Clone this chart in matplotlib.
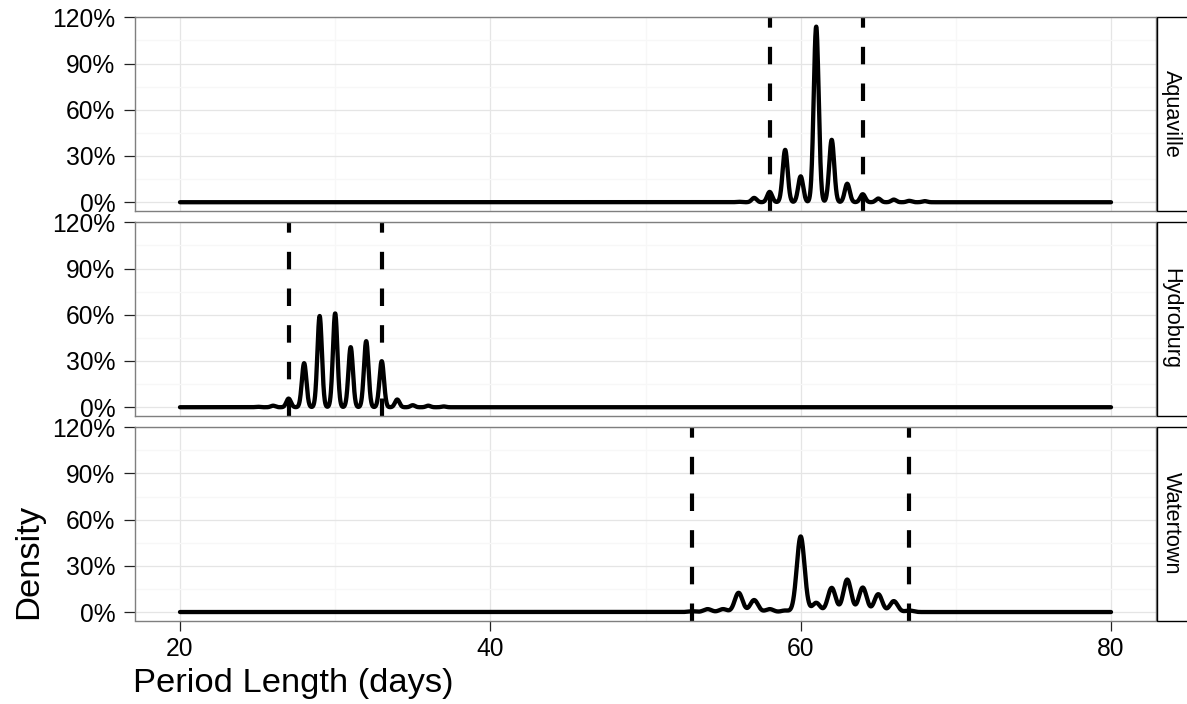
import numpy as np
import matplotlib
matplotlib.use("Agg")
import matplotlib.pyplot as plt
from matplotlib.patches import Rectangle

plt.rcParams['font.family'] = ['Liberation Sans', 'DejaVu Sans']

# facet names
cities = ["Aquaville", "Hydroburg", "Watertown"]

aqua_days = [56, 57, 58, 59, 60, 61, 62, 63, 64, 65, 66, 67, 68]
aqua_peaks = [0.003, 0.028, 0.067, 0.34, 0.168, 1.14, 0.405, 0.12, 0.052, 0.024, 0.017, 0.009, 0.007]

hydro_days = [25, 26, 27, 28, 29, 30, 31, 32, 33, 34, 35, 36, 37]
hydro_peaks = [0.003, 0.01, 0.056, 0.286, 0.592, 0.609, 0.39, 0.429, 0.299, 0.05, 0.013, 0.01, 0.005]

water_days = [53, 54, 55, 56, 57, 58, 59, 60, 61, 62, 63, 64, 65, 66, 67]
water_peaks = [0.005, 0.019, 0.019, 0.125, 0.078, 0.019, 0.01, 0.491, 0.06, 0.157, 0.211, 0.159, 0.116, 0.071, 0.01]

# kernel bandwidths of the density estimates
bandwidths = [0.16, 0.145, 0.25]

# dashed interval bounds
lower_bounds = [58, 27, 53]
upper_bounds = [64, 33, 67]

x_ticks = [20, 40, 60, 80]
y_ticks = [0, 0.3, 0.6, 0.9, 1.2]
y_labels = ["0%", "30%", "60%", "90%", "120%"]

W, H = 1187, 704
fig = plt.figure(figsize=(W / 100, H / 100), dpi=100)


def rect(left, top, right, bottom):
    return [left / W, 1 - bottom / H, (right - left) / W, (bottom - top) / H]


def density_curve(grid, days, peaks, bw):
    y = np.zeros_like(grid)
    for d, p in zip(days, peaks):
        y += p * np.exp(-0.5 * ((grid - d) / bw) ** 2)
    return y


panel_tb = [(16.7, 210.7), (221.7, 415.7), (426.7, 620.5)]
all_days = [aqua_days, hydro_days, water_days]
all_peaks = [aqua_peaks, hydro_peaks, water_peaks]
grid = np.linspace(20, 80, 4000)

for i, city in enumerate(cities):
    top, bottom = panel_tb[i]
    ax = fig.add_axes(rect(135, top, 1155.7, bottom))
    ax.set_xlim(17.1, 82.88)
    ax.set_ylim(-0.055, 1.204)

    # grid
    ax.set_xticks(x_ticks)
    ax.set_xticks([30, 50, 70], minor=True)
    ax.set_yticks(y_ticks)
    ax.set_yticks([0.15, 0.45, 0.75, 1.05], minor=True)
    ax.set_yticklabels(y_labels)
    ax.grid(True, which='major', color='#E5E5E5', lw=0.9)
    ax.grid(True, which='minor', color='#F7F7F7', lw=0.9)
    ax.set_axisbelow(True)

    ax.axvline(lower_bounds[i], color='black', lw=3.0, ls=(0, (4.2, 4.6)))
    ax.axvline(upper_bounds[i], color='black', lw=3.0, ls=(0, (4.2, 4.6)))

    dens = density_curve(grid, all_days[i], all_peaks[i], bandwidths[i])
    ax.plot(grid, dens, color='black', lw=3.1, solid_capstyle='round', solid_joinstyle='round')

    for sp in ax.spines.values():
        sp.set_color('#7F7F7F')
        sp.set_linewidth(1.0)

    ax.tick_params(axis='y', which='major', length=7.8, width=0.9, color='#222222',
                   pad=6.5, labelsize=17.7, labelcolor='black')
    ax.tick_params(which='minor', length=0)
    if i == 2:
        ax.tick_params(axis='x', which='major', length=7.3, width=0.9, color='#222222',
                       pad=4.5, labelsize=17.7, labelcolor='black')
        ax.set_xticklabels([str(t) for t in x_ticks])
    else:
        ax.tick_params(axis='x', which='major', length=0, labelbottom=False)

    # facet strip on the right
    strip = Rectangle(((1157.3) / W, 1 - bottom / H), 60 / W, (bottom - top) / H,
                      transform=fig.transFigure, facecolor='white', edgecolor='black',
                      lw=1.0, clip_on=False)
    fig.patches.append(strip)
    fig.text(1171 / W, 1 - (top + bottom) / 2 / H, city, rotation=-90,
             ha='center', va='center', fontsize=15.6, color='black')

fig.text(293 / W, 1 - 691.7 / H, "Period Length (days)", ha='center', va='baseline',
         fontsize=24.8)
fig.text(29 / W, 1 - 561.5 / H, "Density", rotation=90, ha='center', va='center',
         fontsize=24.8)

fig.savefig("out.png", dpi=100)
